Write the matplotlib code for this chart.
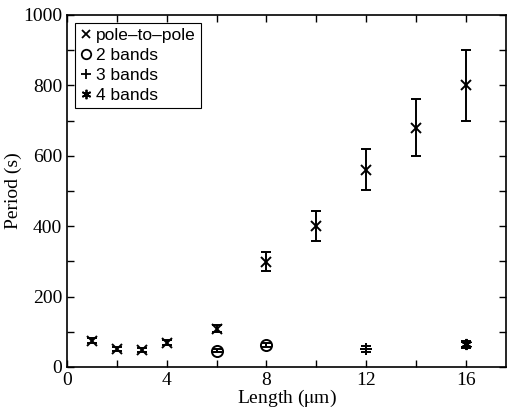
import numpy as np
import matplotlib.pyplot as plt
from matplotlib.lines import Line2D

# data
p2p_len = [1, 2, 3, 4, 6, 8, 10, 12, 14, 16]
p2p_per = [74, 51, 48, 69, 109, 299, 400, 560, 680, 800]
p2p_err = [7, 5, 5, 7, 11, 27, 42, 58, 80, 100]
b2_len = [6, 8]
b2_per = [46, 62]
b2_err = [5, 6]
b3_len = [12]
b3_per = [51]
b3_err = [8]
b4_len = [16]
b4_per = [64]
b4_err = [10]

plt.rcParams['font.family'] = ['Liberation Serif']
plt.rcParams['mathtext.fontset'] = 'stix'

fig = plt.figure(figsize=(5.07, 4.16), dpi=100)
ax = fig.add_axes([0.132, 0.118, 0.866, 0.846])

kw = dict(color='k', ls='none', ecolor='k', elinewidth=1.4, capsize=3.5, capthick=1.4,
          mfc='none', mec='k', mew=1.4, ms=7)
series = [
    (p2p_len, p2p_per, p2p_err, 'x', 7, 'pole\u2013to\u2013pole'),
    (b2_len, b2_per, b2_err, 'o', 8, '2 bands'),
    (b3_len, b3_per, b3_err, '+', 9, '3 bands'),
    (b4_len, b4_per, b4_err, (6, 2, 0), 8, '4 bands'),
]
handles = []
for xs, ys, es, m, size, lab in series:
    ax.errorbar(xs, ys, yerr=es, marker=m, **dict(kw, ms=size))
    handles.append(Line2D([], [], ls='none', marker=m, mfc='none', mec='k', mew=1.3,
                          ms=size * 0.85, label=lab))

ax.set_xlim(0, 17.6)
ax.set_ylim(0, 1000)
ax.set_xticks([0, 4, 8, 12, 16])
ax.set_xticks(np.arange(0, 18, 2), minor=True)
ax.set_yticks([0, 200, 400, 600, 800, 1000])
ax.set_yticks(np.arange(0, 1001, 100), minor=True)
ax.tick_params(which='both', direction='in', top=True, right=True, labelsize=14, width=1)
ax.tick_params(which='major', length=5)
ax.tick_params(which='minor', length=5)
for s in ax.spines.values():
    s.set_linewidth(1.2)

ax.set_xlabel('Length ($\\mathrm{\\mu}$m)', fontsize=14, labelpad=-1)
ax.set_ylabel('Period (s)', fontsize=14, labelpad=1)

leg = ax.legend(handles=handles, loc='upper left', prop={'family': 'Liberation Sans', 'size': 12.5},
                handlelength=0.7, handletextpad=0.2, borderpad=0.3, labelspacing=0.28,
                fancybox=False, framealpha=1, edgecolor='k', borderaxespad=0.45)
leg.get_frame().set_linewidth(0.8)

fig.savefig('out.png', dpi=100)
